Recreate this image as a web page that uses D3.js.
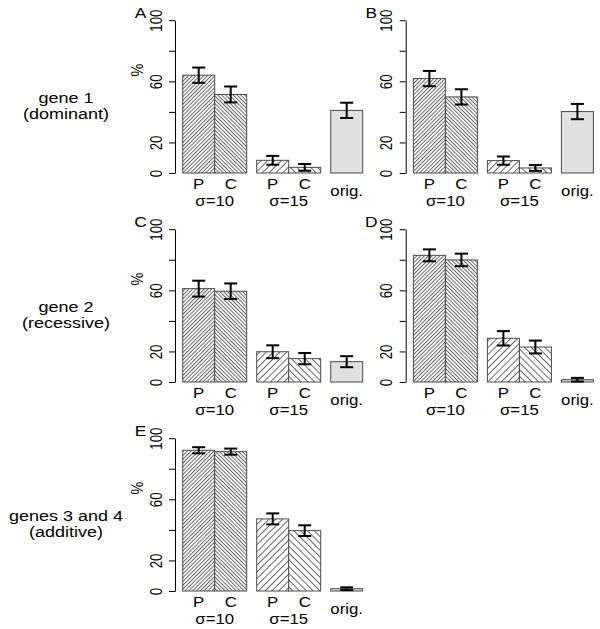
<!DOCTYPE html>
<html><head><meta charset="utf-8">
<script src="https://cdn.jsdelivr.net/npm/d3@7"></script>
<style>
body{margin:0;background:#fff;}
svg text{font-family:"Liberation Sans",Arial,Helvetica,sans-serif;fill:#000;}
</style></head>
<body><svg id="c" width="600" height="629"></svg>
<script>
// ---- data ----
const barLabels = ["P","C","P","C","orig."];
const barGroups = [0,0,1,1,2];
const groupLabels = ["σ=10","σ=15"];
const yTicks = [0,20,40,60,80,100];
const yTickLabels = ["0","20","","60","","100"];
const panelNames = ["A","B","C","D","E"];
const rowLabels = [["gene 1","(dominant)"],["gene 2","(recessive)"],["genes 3 and 4","(additive)"]];
const valuesA = [64.0, 51.4, 8.3, 3.7, 41.0];
const errorsA = [5.0, 5.2, 2.9, 2.2, 5.0];
const valuesB = [61.8, 49.8, 8.1, 3.3, 40.2];
const errorsB = [5.0, 5.0, 2.7, 1.9, 5.0];
const valuesC = [61.1, 59.4, 19.8, 15.3, 13.3];
const errorsC = [5.2, 5.1, 4.2, 3.7, 3.6];
const valuesD = [82.9, 79.9, 28.6, 22.9, 1.5];
const errorsD = [3.9, 4.1, 4.7, 4.2, 1.2];
const valuesE = [92.1, 91.2, 47.2, 39.5, 1.5];
const errorsE = [2.0, 2.0, 3.6, 3.5, 0.9];
const panelValues = [valuesA, valuesB, valuesC, valuesD, valuesE];
const panelErrors = [errorsA, errorsB, errorsC, errorsD, errorsE];

// ---- layout ----
const SX = 1.2;
const colX = [175, 405.7];
const rowY0 = [173, 382, 591];
const plotH = 152.8;
const barUnit = 32, groupGap = 10/32, barOffset = 7.7;
const panelPos = [[0,0],[1,0],[0,1],[1,1],[0,2]];
const svg = d3.select("#c");

// hatch patterns
const defs = svg.append("defs");
function hatch(id, spacing, angle){
  const p = defs.append("pattern").attr("id",id).attr("patternUnits","userSpaceOnUse")
    .attr("width",spacing).attr("height",spacing).attr("patternTransform",`rotate(${angle})`);
  p.append("rect").attr("width",spacing).attr("height",spacing).attr("fill","#fff");
  p.append("line").attr("x1",0.5).attr("x2",0.5).attr("y1",0).attr("y2",spacing)
    .attr("stroke","#333").attr("stroke-width",0.75);
}
hatch("h10P", 2.7, 45);
hatch("h10C", 2.7, -45);
hatch("h15P", 4.8, 45);
hatch("h15C", 4.8, -45);
const fills = ["url(#h10P)","url(#h10C)","url(#h15P)","url(#h15C)","#e0e0e0"];

function txt(g, s, x, y, size, anchor, rot){
  return g.append("text").text(s)
    .attr("transform", `translate(${x},${y}) scale(${SX},1)` + (rot ? ` rotate(${rot})` : ""))
    .attr("font-size", size).attr("text-anchor", anchor||"middle");
}

const starts = barLabels.map((d,i)=> i + barGroups[i]*groupGap);

panelNames.forEach((name, pi)=>{
  const [c, r] = panelPos[pi];
  const ax = colX[c], y0 = rowY0[r];
  const y = d3.scaleLinear().domain([0,100]).range([y0, y0-plotH]);
  const x = d3.scaleLinear().domain([0,1]).range([ax+barOffset, ax+barOffset+barUnit]);
  const g = svg.append("g");
  const vals = panelValues[pi], errs = panelErrors[pi];

  g.selectAll("rect.bar").data(vals).join("rect").attr("class","bar")
    .attr("x",(d,i)=>x(starts[i])).attr("width",(d,i)=>x(starts[i]+1)-x(starts[i]))
    .attr("y",d=>y(d)).attr("height",d=>y(0)-y(d))
    .attr("fill",(d,i)=>fills[i]).attr("stroke","#4a4a4a").attr("stroke-width",1);

  // error bars
  const eg = g.append("g").attr("stroke","#000").attr("stroke-width",2).attr("fill","none");
  vals.forEach((v,i)=>{
    const cx = x(starts[i]+0.5), t = y(v+errs[i]), b = y(Math.max(0,v-errs[i]));
    eg.append("line").attr("x1",cx).attr("x2",cx).attr("y1",t).attr("y2",b);
    eg.append("line").attr("x1",cx-6.5).attr("x2",cx+6.5).attr("y1",t).attr("y2",t);
    eg.append("line").attr("x1",cx-6.5).attr("x2",cx+6.5).attr("y1",b).attr("y2",b);
  });

  // axis
  const axis = d3.axisLeft(y).tickValues(yTicks).tickSize(6).tickSizeOuter(0)
    .tickFormat((d,i)=>yTickLabels[i]);
  const ag = g.append("g").attr("transform",`translate(${ax},0)`).call(axis);
  ag.select(".domain").attr("stroke","#000");
  ag.selectAll(".tick line").attr("stroke","#000");
  ag.selectAll(".tick text").attr("x",null).attr("dy",null)
    .attr("transform",`translate(-13.5,0) scale(${SX},1) rotate(-90)`)
    .attr("text-anchor","middle").attr("font-size",13.2)
    .attr("font-family","Liberation Sans, Arial, sans-serif").attr("fill","#000");

  // bar labels
  barLabels.forEach((lab,i)=>{
    const cx = x(starts[i]+0.5);
    txt(g, lab, cx, y0 + (lab==="orig." ? 22.5 : 15.5), 14);
  });
  groupLabels.forEach((lab,gi)=>{
    const cx = x(gi*(2+groupGap)+1);
    txt(g, lab, cx, y0 + 32.5, 14);
  });

  // panel letter
  txt(g, name, ax-34.5, y0-plotH-2.5, 14.5);
  // y label on left column
  if (c===0) txt(g, "%", ax-32, y0-103, 14.5, "middle", -90);
});

rowLabels.forEach((lines, r)=>{
  txt(svg, lines[0], 66, rowY0[r]-70.5, 15);
  txt(svg, lines[1], 66, rowY0[r]-54, 15);
});
</script></body></html>
